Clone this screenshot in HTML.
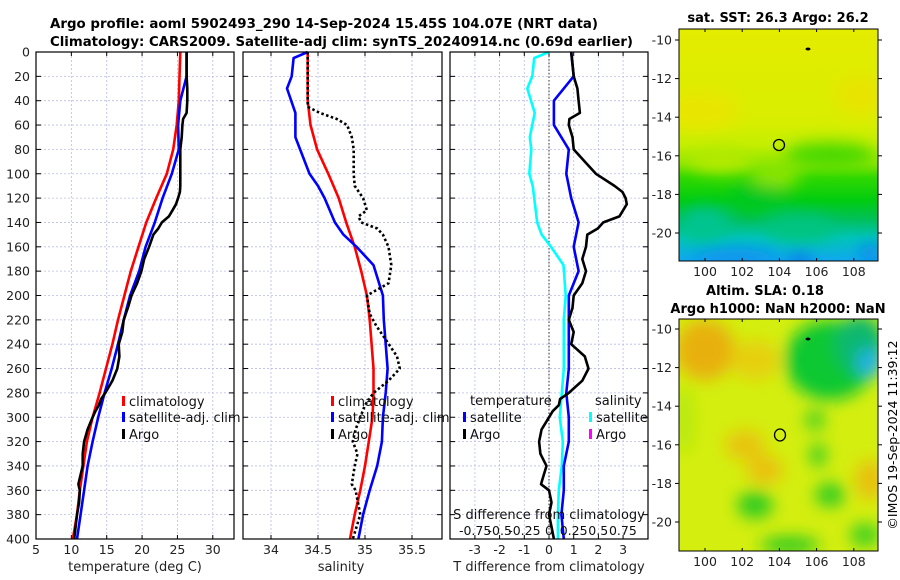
<!DOCTYPE html>
<html><head><meta charset="utf-8"><style>
html,body{margin:0;padding:0;background:#fff;}
svg{display:block;font-family:"DejaVu Sans","Liberation Sans",sans-serif;}
</style></head><body>
<svg id="fig" width="900" height="580" viewBox="0 0 900 580" xmlns="http://www.w3.org/2000/svg">
<defs>
<linearGradient id="sstGrad" x1="0" y1="0" x2="0" y2="1">
<stop offset="0" stop-color="#e4ec00"/><stop offset="0.4" stop-color="#d8ee00"/><stop offset="0.5" stop-color="#c4ee00"/>
<stop offset="0.58" stop-color="#90e600"/><stop offset="0.64" stop-color="#30d800"/><stop offset="0.74" stop-color="#00cc10"/><stop offset="0.82" stop-color="#00c05a"/>
<stop offset="0.9" stop-color="#00c4b8"/><stop offset="1" stop-color="#10a8f0"/></linearGradient>
<filter id="blur8" x="-50%" y="-50%" width="200%" height="200%"><feGaussianBlur stdDeviation="8"/></filter>
<clipPath id="mapTopClip"><rect x="679" y="29" width="199" height="232"/></clipPath>
<clipPath id="mapBotClip"><rect x="679" y="319" width="199" height="232"/></clipPath>
</defs>

<text x="50" y="28" font-size="13" font-weight="bold" textLength="548" lengthAdjust="spacingAndGlyphs">Argo profile: aoml 5902493_290 14-Sep-2024 15.45S 104.07E (NRT data)</text>
<text x="50" y="46" font-size="13" font-weight="bold" textLength="583" lengthAdjust="spacingAndGlyphs">Climatology: CARS2009. Satellite-adj clim: synTS_20240914.nc (0.69d earlier)</text>

<g id="p1"></g>
<g id="p2"></g>
<g id="p3"></g>

<g>
<text x="778" y="22" font-size="13" font-weight="bold" text-anchor="middle">sat. SST: 26.3 Argo: 26.2</text>
<g clip-path="url(#mapTopClip)">
<rect x="679" y="29" width="199" height="232" fill="url(#sstGrad)"/>
<g filter="url(#blur8)">
<ellipse cx="700" cy="110" rx="40" ry="20" fill="#e8e600"/>
<ellipse cx="860" cy="95" rx="25" ry="20" fill="#e8e400"/>
<ellipse cx="720" cy="160" rx="30" ry="12" fill="#b4ea00"/>
<ellipse cx="775" cy="175" rx="25" ry="12" fill="#90e600"/>
<ellipse cx="830" cy="155" rx="45" ry="12" fill="#44d800"/>
<ellipse cx="705" cy="225" rx="25" ry="18" fill="#00c490"/>
<ellipse cx="800" cy="228" rx="35" ry="14" fill="#00c480"/>
<ellipse cx="760" cy="198" rx="30" ry="14" fill="#00c820"/>
<ellipse cx="735" cy="257" rx="45" ry="8" fill="#1090f0"/>
<ellipse cx="800" cy="259" rx="12" ry="5" fill="#1060e8"/>
<ellipse cx="870" cy="252" rx="10" ry="8" fill="#1080f0"/>
</g></g>
<rect x="679" y="29" width="199" height="232" fill="none" stroke="#000" stroke-width="1"/>
<g id="mapTopAxes"></g>
<circle cx="779" cy="145" r="5.5" fill="none" stroke="#000" stroke-width="1.3"/>
<ellipse cx="808" cy="49" rx="2.5" ry="1.5" fill="#000"/>
</g>

<g>
<text x="765" y="295" font-size="13" font-weight="bold" text-anchor="middle">Altim. SLA: 0.18</text>
<text x="778" y="313" font-size="13" font-weight="bold" text-anchor="middle">Argo h1000: NaN h2000: NaN</text>
<g clip-path="url(#mapBotClip)">
<rect x="679" y="319" width="199" height="232" fill="#d4ee10"/>
<g filter="url(#blur8)">
<ellipse cx="705" cy="350" rx="30" ry="30" fill="#e8b010"/>
<ellipse cx="755" cy="360" rx="25" ry="20" fill="#e6d010"/>
<ellipse cx="745" cy="445" rx="20" ry="15" fill="#e8c410"/>
<ellipse cx="765" cy="470" rx="18" ry="14" fill="#eac010"/>
<ellipse cx="870" cy="480" rx="15" ry="20" fill="#e8c010"/>
<ellipse cx="830" cy="360" rx="45" ry="40" fill="#10c830"/>
<ellipse cx="860" cy="345" rx="25" ry="30" fill="#10b870"/>
<ellipse cx="870" cy="363" rx="12" ry="14" fill="#20b0f0"/>
<ellipse cx="815" cy="420" rx="10" ry="10" fill="#40d020"/>
<ellipse cx="818" cy="455" rx="8" ry="12" fill="#30cc20"/>
<ellipse cx="830" cy="495" rx="15" ry="12" fill="#30cc20"/>
<ellipse cx="755" cy="505" rx="18" ry="14" fill="#30cc20"/>
<ellipse cx="790" cy="545" rx="30" ry="8" fill="#20c820"/>
<ellipse cx="865" cy="535" rx="15" ry="12" fill="#40d020"/>
<ellipse cx="685" cy="420" rx="8" ry="35" fill="#b0e810"/>
</g></g>
<rect x="679" y="319" width="199" height="232" fill="none" stroke="#000" stroke-width="1"/>
<g id="mapBotAxes"></g>
<ellipse cx="780" cy="435" rx="5.5" ry="6" fill="none" stroke="#000" stroke-width="1.3"/>
<ellipse cx="808" cy="339" rx="2.5" ry="1.5" fill="#000"/>
</g>
<text transform="translate(897,435) rotate(-90)" font-size="12.5" text-anchor="middle">©IMOS 19-Sep-2024 11:39:12</text>
</svg>
<script>
const depthStd = [0,20,40,60,80,100,120,140,160,180,200,220,240,260,280,300,320,340,360,380,400];
const tempClim = [25.4,25.3,25.2,24.9,24.4,23.5,22.0,20.6,19.5,18.4,17.5,16.6,15.8,14.9,14.0,13.0,12.2,11.7,11.2,10.8,10.2];
const tempSat  = [26.3,26.3,25.4,25.1,25.2,24.2,22.9,21.8,20.5,19.6,18.3,17.4,16.6,15.7,14.7,13.8,13.0,12.3,11.8,11.3,10.8];
const depthArgoT = [0,10,20,30,40,50,55,60,70,80,90,100,110,115,120,125,130,135,140,145,150,160,170,180,190,200,210,220,230,240,250,260,270,280,285,290,295,300,310,320,330,340,350,355,360,370,380,390,400];
const tempArgo = [26.3,26.3,26.3,26.4,26.4,26.3,25.8,25.7,25.6,25.4,25.4,25.4,25.4,25.35,25.1,24.8,24.3,23.8,22.8,22.3,21.6,21.0,20.3,19.9,19.3,18.5,18.0,17.4,17.2,16.7,16.8,16.5,15.8,14.8,14.2,13.9,13.4,13.0,12.3,11.8,11.6,11.6,11.2,11.0,11.2,11.1,10.8,10.6,10.4];
const salClim = [34.39,34.39,34.39,34.42,34.49,34.61,34.72,34.80,34.89,34.96,35.02,35.05,35.07,35.09,35.09,35.08,35.04,35.00,34.95,34.89,34.84];
const depthSatS = [0,5,20,30,50,70,80,100,110,120,140,150,160,175,190,200,220,240,260,280,300,320,340,360,380,400];
const salSat = [34.39,34.24,34.22,34.17,34.26,34.26,34.31,34.41,34.50,34.57,34.68,34.77,34.91,35.09,35.15,35.19,35.20,35.22,35.24,35.22,35.19,35.18,35.13,35.05,34.98,34.93];
const depthArgoS = [0,45,50,55,60,70,80,100,110,120,130,135,140,145,150,160,175,190,200,215,225,235,250,260,270,280,290,300,310,320,330,340,355,360,380,400];
const salArgo = [34.39,34.39,34.52,34.70,34.81,34.86,34.88,34.88,34.89,34.98,35.02,34.93,34.96,35.13,35.19,35.25,35.28,35.25,35.02,35.05,35.12,35.21,35.34,35.37,35.25,35.09,35.00,34.95,34.90,34.87,34.92,34.89,34.86,34.90,34.95,34.87];
const depthTicks = [0,20,40,60,80,100,120,140,160,180,200,220,240,260,280,300,320,340,360,380,400];
const tempTicks = [5,10,15,20,25,30];
const salTicks = [34,34.5,35,35.5];
const diffTicks = [-3,-2,-1,0,1,2,3];
const sDiffTicks = [-0.75,-0.5,-0.25,0,0.25,0.5,0.75];
const lonTicks = [100,102,104,106,108];
const latTicks = [-10,-12,-14,-16,-18,-20];

const NS='http://www.w3.org/2000/svg';
function mk(parent,tag,attrs,text){const e=document.createElementNS(NS,tag);for(const k in attrs)e.setAttribute(k,attrs[k]);if(text!==undefined)e.textContent=text;parent.appendChild(e);return e;}
const Y0=52,Y1=539;
const yD=d=>Y0+(d/400)*(Y1-Y0);
function interp(ds,vs,d){if(d<=ds[0])return vs[0];for(let i=1;i<ds.length;i++){if(d<=ds[i]){const t=(d-ds[i-1])/(ds[i]-ds[i-1]);return vs[i-1]+t*(vs[i]-vs[i-1]);}}return vs[vs.length-1];}
function pathOf(ds,vs,xf){return ds.map((d,i)=>(i?'L':'M')+xf(vs[i]).toFixed(1)+','+yD(d).toFixed(1)).join(' ');}

function axesFrame(g,x0,x1,xt,xf,showY){
  xt.forEach(v=>{const x=xf(v);
    const l=mk(g,'line',{x1:x,x2:x,y1:Y0,y2:Y1,stroke:'#b8bce8','stroke-width':0.8,'stroke-dasharray':'2,2'});
    
    
    mk(g,'line',{x1:x,x2:x,y1:Y1,y2:Y1-4,stroke:'#000','stroke-width':1});
    mk(g,'line',{x1:x,x2:x,y1:Y0,y2:Y0+4,stroke:'#000','stroke-width':1});
  });
  depthTicks.forEach(d=>{const y=yD(d);
    if(d>0&&d<400){const l=mk(g,'line',{x1:x0,x2:x1,y1:y,y2:y,stroke:'#b8bce8','stroke-width':0.8,'stroke-dasharray':'2,2'});
      
      }
    mk(g,'line',{x1:x0,x2:x0+5,y1:y,y2:y,stroke:'#000','stroke-width':1});
    mk(g,'line',{x1:x1-5,x2:x1,y1:y,y2:y,stroke:'#000','stroke-width':1});
    if(showY){const t=mk(g,'text',{x:30,y:y+4.5,'font-size':12.5,'text-anchor':'end',fill:'#222'},String(d));
      
      }
  });
}
function series(g,ds,vs,xf,color,name,dash){
  const p=mk(g,'path',{d:pathOf(ds,vs,xf),fill:'none',stroke:color,'stroke-width':2.6,'stroke-linejoin':'round'});
  if(dash)p.setAttribute('stroke-dasharray',dash);
  
  
  return p;
}
function legend(g,x,y,color,label,name){
  mk(g,'rect',{x:x,y:y-10,width:3,height:10,fill:color});
  const t=mk(g,'text',{x:x+7,y:y,'font-size':13,fill:'#111'},label);
  
  
}
function box(g,x0,x1,name){const r=mk(g,'rect',{x:x0,y:Y0,width:x1-x0,height:Y1-Y0,fill:'none',stroke:'#000','stroke-width':1.2});
  
  }

(function(){
  const g=document.getElementById('p1');const x0=36,x1=234,mn=5,mx=33;
  const xf=v=>x0+(v-mn)/(mx-mn)*(x1-x0);
  axesFrame(g,x0,x1,tempTicks,xf,true);
  series(g,depthStd,tempClim,xf,'#ff0000','temp-climatology-line');
  series(g,depthStd,tempSat,xf,'#0000ff','temp-satellite-line');
  series(g,depthArgoT,tempArgo,xf,'#000000','temp-argo-line');
  box(g,x0,x1,'temperature-axes');
  tempTicks.forEach(v=>{const t=mk(g,'text',{x:xf(v),y:554,'font-size':12.5,'text-anchor':'middle',fill:'#222'},String(v));
    
    });
  const xt=mk(g,'text',{x:135,y:571,'font-size':13,'text-anchor':'middle',fill:'#222'},'temperature (deg C)');
  
  
  legend(g,122,406,'#ff0000','climatology','legend-climatology');
  legend(g,122,422,'#0000ff','satellite-adj. clim','legend-satellite');
  legend(g,122,439,'#000000','Argo','legend-argo');
})();

(function(){
  const g=document.getElementById('p2');const x0=243,x1=442;
  const xf=v=>271+(v-34)*94;
  axesFrame(g,x0,x1,salTicks,xf,false);
  series(g,depthStd,salClim,xf,'#ff0000','sal-climatology-line');
  series(g,depthSatS,salSat,xf,'#0000ff','sal-satellite-line');
  series(g,depthArgoS,salArgo,xf,'#000000','sal-argo-line','2.5,2.5');
  box(g,x0,x1,'salinity-axes');
  salTicks.forEach(v=>{const t=mk(g,'text',{x:xf(v),y:554,'font-size':12.5,'text-anchor':'middle',fill:'#222'},String(v));
    
    });
  const xt=mk(g,'text',{x:341,y:571,'font-size':13,'text-anchor':'middle',fill:'#222'},'salinity');
  
  
  legend(g,331,406,'#ff0000','climatology','legend-climatology-2');
  legend(g,331,422,'#0000ff','satellite-adj. clim','legend-satellite-2');
  legend(g,331,439,'#000000','Argo','legend-argo-2');
})();

(function(){
  const g=document.getElementById('p3');const x0=450,x1=648;
  const xf=v=>549+v*24.7;
  const sf=v=>549+v*98.5;
  axesFrame(g,x0,x1,diffTicks,xf,false);
  const zl=mk(g,'line',{x1:549,x2:549,y1:Y0,y2:Y1,stroke:'#333','stroke-width':1,'stroke-dasharray':'1.5,2'});
  
  
  const sDiff=depthSatS.map((d,i)=>salSat[i]-interp(depthStd,salClim,d));
  const tSatDiff=depthStd.map((d,i)=>tempSat[i]-tempClim[i]);
  const tArgoDiff=depthArgoT.map((d,i)=>tempArgo[i]-interp(depthStd,tempClim,d));
  series(g,depthSatS,sDiff,sf,'#00ffff','sal-satellite-diff-line');
  series(g,depthStd,tSatDiff,xf,'#0000ff','temp-satellite-diff-line');
  series(g,depthArgoT,tArgoDiff,xf,'#000000','temp-argo-diff-line');
  box(g,x0,x1,'difference-axes');
  diffTicks.forEach(v=>{const t=mk(g,'text',{x:xf(v),y:554,'font-size':12.5,'text-anchor':'middle',fill:'#222'},String(v));
    
    });
  const xt=mk(g,'text',{x:549,y:571,'font-size':13,'text-anchor':'middle',fill:'#222'},'T difference from climatology');
  
  
  const st=mk(g,'text',{x:549,y:519,'font-size':13,'text-anchor':'middle',fill:'#111'},'S difference from climatology');
  
  
  sDiffTicks.forEach(v=>{const t=mk(g,'text',{x:sf(v),y:535,'font-size':12.5,'text-anchor':'middle',fill:'#111'},String(v));
    
    });
  const th=mk(g,'text',{x:470,y:405,'font-size':13,fill:'#111'},'temperature');
  
  
  legend(g,463,422,'#0000ff','satellite','legend-temp-satellite');
  legend(g,463,439,'#000000','Argo','legend-temp-argo');
  const sh=mk(g,'text',{x:595,y:405,'font-size':13,fill:'#111'},'salinity');
  
  
  legend(g,589,422,'#00ffff','satellite','legend-sal-satellite');
  legend(g,589,439,'#ff00ff','Argo','legend-sal-argo');
})();

function mapAxes(id,top,bot,lat10y,latStep){
  const g=document.getElementById(id);
  const lonX=v=>705+(v-100)*18.6;
  lonTicks.forEach(v=>{const x=lonX(v);
    mk(g,'line',{x1:x,x2:x,y1:bot,y2:bot-3,stroke:'#000'});
    mk(g,'line',{x1:x,x2:x,y1:top,y2:top+3,stroke:'#000'});
    const t=mk(g,'text',{x:x,y:bot+15,'font-size':12.5,'text-anchor':'middle',fill:'#222'},String(v));
    
    });
  latTicks.forEach(v=>{const y=lat10y+(-10-v)*latStep;
    mk(g,'line',{x1:679,x2:675,y1:y,y2:y,stroke:'#000'});
    mk(g,'line',{x1:878,x2:882,y1:y,y2:y,stroke:'#000'});
    const t=mk(g,'text',{x:672,y:y+4.5,'font-size':12.5,'text-anchor':'end',fill:'#222'},String(v));
    
    });
}
mapAxes('mapTopAxes',29,261,40,19.3);
mapAxes('mapBotAxes',319,551,329,19.3);
</script>
</body></html>
